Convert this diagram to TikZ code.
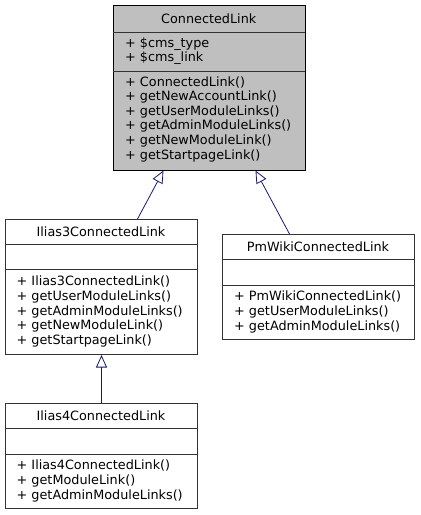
\documentclass[tikz,border=0pt]{standalone}
\usepackage{fontspec}
\setmainfont{DejaVu Sans}
\usetikzlibrary{arrows.meta}
\definecolor{edgeblue}{HTML}{191970}
\definecolor{mainfill}{HTML}{BFBFBF}
\definecolor{boxline}{HTML}{333333}
\tikzset{
  clsbox/.style={draw=boxline, line width=1pt, fill=white, rectangle, inner sep=0pt, anchor=north west},
  mainbox/.style={clsbox, draw=black, fill=mainfill},
  divider/.style={draw=boxline, line width=1pt},
  title/.style={font=\fontsize{12.8}{14.6}\selectfont, inner sep=0pt, text=black},
  members/.style={font=\fontsize{12.8}{14.6}\selectfont, inner sep=0pt, align=left, anchor=west, text=black},
  inh/.style={draw=edgeblue, line width=0.8pt, -{Triangle[open, length=12.5pt, width=11pt, fill=white]}}
}
\begin{document}
\begin{tikzpicture}[x=1pt,y=-1pt]
\useasboundingbox (0,0) rectangle (421,515);
% ConnectedLink
\node[mainbox, minimum width=192.5, minimum height=164.5] (cl) at (112.5,5) {};
\draw[divider] (112.5,32) -- (305,32);
\draw[divider] (112.5,71) -- (305,71);
\node[title] (clt) at (208.75,18.5) {ConnectedLink};
\node[members] (cla) at (125,51) {+ \$cms\_type\\+ \$cms\_link};
\node[members] (clm) at (125,119) {+ ConnectedLink()\\+ getNewAccountLink()\\+ getUserModuleLinks()\\+ getAdminModuleLinks()\\+ getNewModuleLink()\\+ getStartpageLink()};
% Ilias3ConnectedLink
\node[clsbox, minimum width=192, minimum height=135] (i3) at (5,219) {};
\draw[divider] (5,244) -- (197,244);
\draw[divider] (5,269) -- (197,269);
\node[title] (i3t) at (101,231.5) {Ilias3ConnectedLink};
\node[members] (i3m) at (16.5,311.5) {+ Ilias3ConnectedLink()\\+ getUserModuleLinks()\\+ getAdminModuleLinks()\\+ getNewModuleLink()\\+ getStartpageLink()};
% PmWikiConnectedLink
\node[clsbox, minimum width=192, minimum height=105] (pm) at (222,234) {};
\draw[divider] (222,259) -- (414,259);
\draw[divider] (222,285) -- (414,285);
\node[title] (pmt) at (318,246.5) {PmWikiConnectedLink};
\node[members] (pmm) at (234,312) {+ PmWikiConnectedLink()\\+ getUserModuleLinks()\\+ getAdminModuleLinks()};
% Ilias4ConnectedLink
\node[clsbox, minimum width=192, minimum height=105] (i4) at (5,403) {};
\draw[divider] (5,428) -- (197,428);
\draw[divider] (5,454) -- (197,454);
\node[title] (i4t) at (101,415.5) {Ilias4ConnectedLink};
\node[members] (i4m) at (16.5,481) {+ Ilias4ConnectedLink()\\+ getModuleLink()\\+ getAdminModuleLinks()};
% inheritance
\draw[inh] ([xshift=36pt]i3.north) -- ([xshift=-45.75pt]cl.south);
\draw[inh] ([xshift=-29pt]pm.north) -- ([xshift=46.25pt]cl.south);
\draw[inh] (i4.north) -- (i3.south);
\end{tikzpicture}
\end{document}
